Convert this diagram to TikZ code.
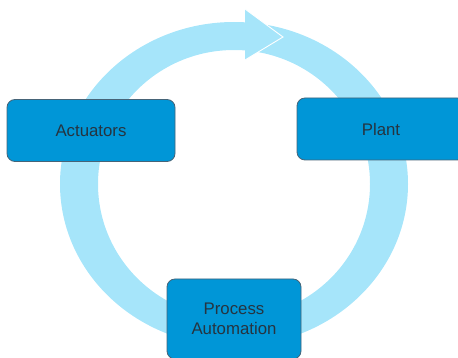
\documentclass[tikz,border=0pt]{standalone}
\usepackage{fontspec}
\setmainfont{Liberation Sans}
\definecolor{ringc}{RGB}{166,229,250}
\definecolor{boxfill}{RGB}{0,150,215}
\definecolor{boxline}{RGB}{70,100,120}
\definecolor{txt}{RGB}{38,52,64}
\tikzset{
  stagebox/.style={draw=boxline, line width=0.8pt, fill=boxfill, rounded corners=8pt,
    inner sep=0pt, text=txt, font=\fontsize{16.8}{20}\selectfont, align=center},
}
\begin{document}
\begin{tikzpicture}[x=1pt,y=1pt]
\useasboundingbox (0,0) rectangle (458,-358);
% ring
\fill[ringc, even odd rule] (234,-184) ellipse [x radius=174, y radius=162]
  (234,-184) ellipse [x radius=136, y radius=134];
% arrow head
\coordinate (hb1) at (245,-9);
\coordinate (tip) at (283,-37);
\coordinate (hb2) at (245,-60);
\fill[ringc] (hb1) -- (tip) -- (hb2) -- cycle;
\draw[white, line width=0.9pt] (hb1) -- (tip) -- (hb2);
% boxes
\node[stagebox, minimum width=168pt, minimum height=62pt] (act) at (91,-130.5) {Actuators};
\node[stagebox, minimum width=168pt, minimum height=62pt] (plant) at (381,-129) {Plant};
\node[stagebox, minimum width=134pt, minimum height=80pt] (proc) at (234,-319) {Process\\Automation};
\end{tikzpicture}
\end{document}
